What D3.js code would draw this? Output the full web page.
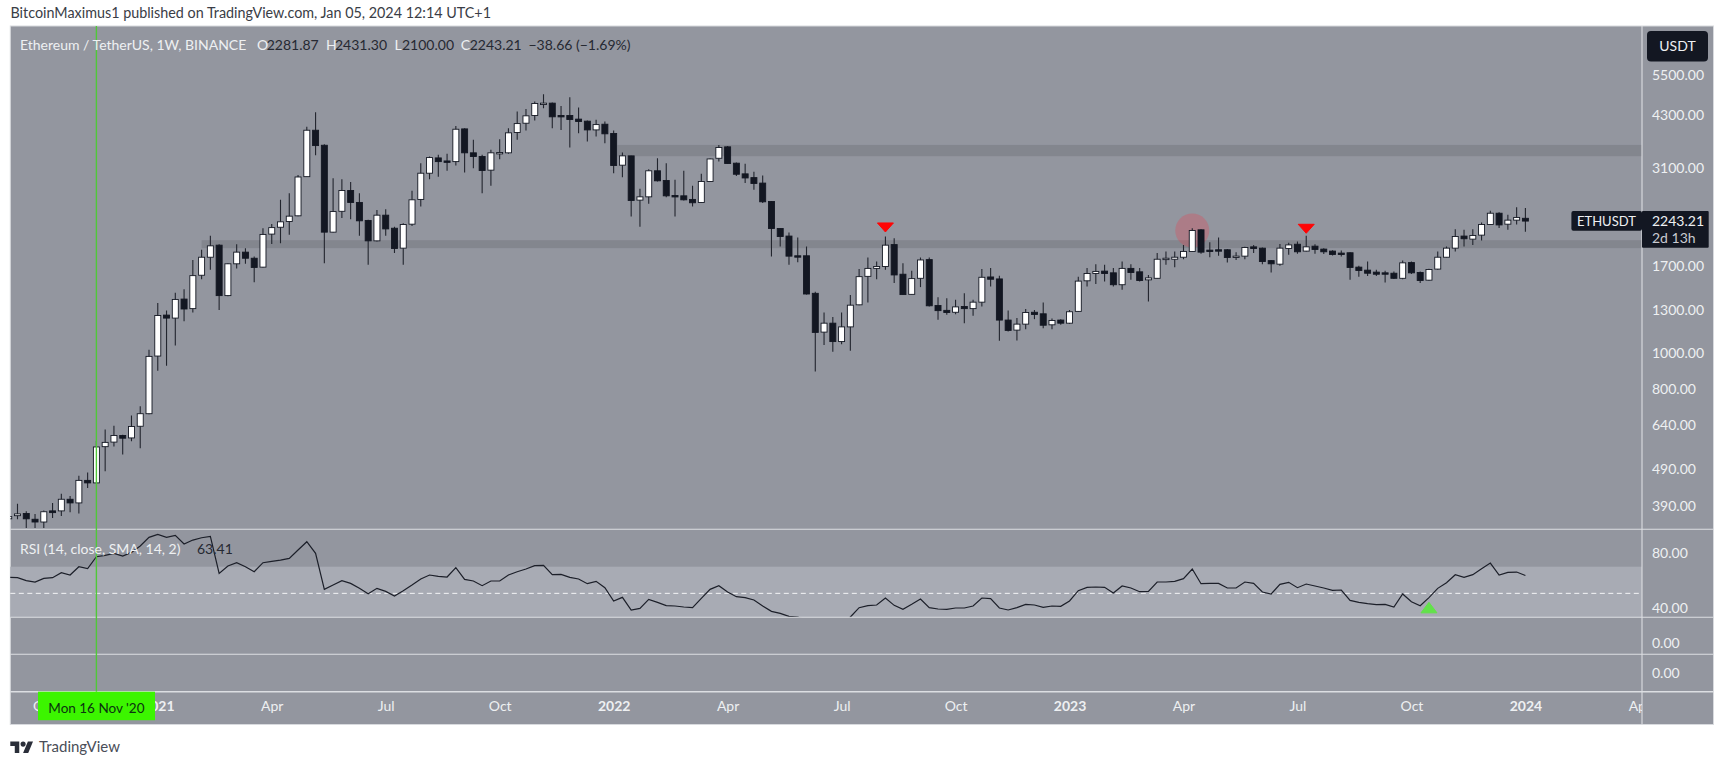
<!DOCTYPE html>
<html>
<head>
<meta charset="utf-8">
<script src="https://cdnjs.cloudflare.com/ajax/libs/d3/7.8.5/d3.min.js"></script>
<style>
  html, body { margin: 0; background: #fff; }
  text { font-family: Lato, "Open Sans", sans-serif; }
</style>
</head>
<body>
<div id="chart"></div>
<script>
// weekly candles, first one is the week of 7 Sep 2020, last the week of 1 Jan 2024
var firstWeek = new Date(Date.UTC(2020, 8, 7))

var opens = [361,368,373,360,354,379,379,407,398,457,450,562,578,602,593,637,688,980,1260,1237,1390,1311,1609,1797,1935,1420,1726,1854,1786,1691,2071,2160,2238,2317,2946,3917,3572,2096,2382,2706,2515,2252,1987,2326,2147,1900,2201,2562,3009,3305,3244,3231,3949,3410,3333,3066,3403,3410,3863,4089,4288,4606,4625,4288,4288,4193,4141,3925,4064,3840,3161,3347,2551,2603,3054,2877,2624,2619,2562,2515,2860,3298,3537,3200,2997,2929,2832,2530,2143,2046,1813,1813,1440,1135,1199,1071,1172,1342,1598,1678,1698,1942,1619,1431,1579,1771,1336,1297,1282,1328,1311,1364,1592,1573,1222,1149,1192,1282,1270,1187,1222,1199,1289,1555,1626,1650,1633,1518,1678,1643,1564,1579,1775,1775,1797,1862,2126,1877,1881,1881,1801,1809,1915,1900,1760,1722,1896,1946,1866,1923,1889,1866,1843,1847,1691,1660,1640,1633,1629,1579,1739,1636,1561,1671,1797,1900,2046,2008,2058,2196,2354,2201,2256,2281.87]
var highs = [374,396,378,372,380,398,421,415,470,480,583,624,639,605,680,720,1019,1356,1295,1446,1477,1767,1881,2050,1946,1733,1946,1900,1805,2147,2205,2556,2660,2978,4003,4374,3593,2917,2900,2849,2660,2261,2401,2411,2168,2215,2700,3200,3333,3368,3389,4020,3964,3692,3368,3473,3707,3964,4391,4463,4673,4882,4644,4548,4797,4501,4158,4175,4132,3910,3417,3350,2734,3085,3298,3200,2889,3054,2786,2997,3291,3579,3558,3212,3187,3035,2965,2536,2147,2092,2029,1919,1455,1281,1245,1281,1426,1671,1794,1750,2041,2020,1733,1653,1794,1794,1406,1398,1384,1440,1384,1671,1681,1605,1295,1237,1308,1300,1362,1234,1229,1300,1595,1681,1722,1715,1681,1750,1722,1681,1612,1843,1862,1862,1938,2147,2134,1970,2029,1889,1854,1915,1938,1908,1767,1950,1965,1978,2050,1946,1900,1877,1873,1854,1705,1750,1664,1653,1647,1760,1750,1647,1674,1862,1919,2134,2126,2134,2224,2391,2368,2331,2442,2431.30]
var lows = [352,360,341,341,341,363,367,376,373,436,448,483,563,536,581,557,686,896,924,1046,1214,1280,1570,1664,1300,1415,1678,1726,1542,1688,1950,1957,2063,2312,2940,3361,1733,2090,2285,2270,2050,1715,1978,2050,1843,1715,2177,2453,2900,2946,3054,3155,3022,3104,2660,2786,3277,3389,3692,3910,4158,4482,3964,3925,3523,3847,3653,3770,3614,3009,2934,2308,2168,2494,2860,2598,2308,2546,2453,2510,2849,3231,3187,2959,2832,2717,2505,1805,1919,1715,1743,1429,892,1048,1006,1054,1012,1339,1362,1570,1664,1533,1426,1429,1496,1328,1224,1262,1267,1199,1255,1328,1502,1076,1140,1078,1156,1229,1163,1156,1187,1194,1286,1502,1524,1549,1502,1471,1564,1549,1370,1576,1715,1691,1775,1858,1835,1797,1813,1739,1767,1775,1843,1722,1636,1705,1824,1835,1862,1835,1832,1816,1805,1564,1595,1602,1602,1539,1573,1570,1622,1533,1555,1664,1794,1862,1919,1938,1991,2191,2151,2126,2196,2100.00]
var closes = [366,372,361,354,377,375,407,398,457,450,561,577,602,592,636,688,978,1257,1237,1387,1308,1605,1797,1927,1420,1726,1854,1786,1688,2067,2155,2233,2312,2940,3917,3565,2096,2378,2706,2515,2247,1987,2326,2138,1896,2196,2556,3009,3312,3231,3231,3941,3410,3333,3060,3410,3417,3855,4080,4279,4615,4625,4253,4262,4184,4132,3925,4055,3832,3155,3347,2546,2603,3054,2872,2619,2614,2556,2510,2860,3284,3523,3193,2990,2923,2826,2525,2143,2041,1809,1805,1434,1133,1199,1071,1172,1339,1595,1678,1698,1935,1612,1429,1576,1767,1334,1295,1280,1325,1311,1364,1589,1570,1222,1147,1192,1280,1265,1184,1219,1199,1286,1552,1626,1647,1626,1518,1678,1636,1558,1583,1775,1786,1797,1862,2117,1854,1870,1873,1794,1809,1908,1896,1750,1726,1900,1938,1858,1915,1885,1858,1828,1835,1688,1657,1629,1619,1626,1579,1736,1633,1558,1667,1797,1900,2041,2012,2054,2196,2354,2191,2256,2294,2243.21]

// RSI(14) read off the lower pane, the stretch under the pane edge is a guess
var rsiValues = [62,61.75,59.5,58.5,61.25,61.75,65.5,63.75,70,68.5,77.5,78.5,80,78,80.75,85.5,92,94.25,92,93.5,87,90,91.75,92.75,65,70.5,73,70,66.25,73,74,75,76.25,82.5,88.75,80,53,56.25,59.5,57.5,53.75,49.75,53.75,51.5,48,52,56.25,60.75,63.75,62.75,62.25,69.25,60.5,59.25,55.75,59.25,59.25,63.75,66.25,68.25,70.75,71,64,64.25,62,60.75,57.25,59,54.25,44.25,47,37.5,38.75,45.5,43.25,40.75,40.5,39.75,39.25,46.25,53,55.75,51,47.5,46.75,45,40.5,36.5,35,32.75,32.25,30,20,21.25,18.75,25,32.25,39.25,40.75,41.25,46.5,41,38,41.75,45.75,39.25,38.25,38,39,39,40.5,46.5,46,39,37.5,39.25,41.75,41.25,39.5,40.5,40.25,44.25,52,54.5,54.75,54.5,50.25,55.5,54,51.25,51.5,58.5,58.5,59,61,68.25,57.25,57.5,57.5,54,54,58.5,57.5,51,49.5,56.75,58.25,54.25,57,55.5,54,52.25,52.5,44.75,43.25,42.25,41.5,41.75,39.75,49.5,43.75,40.75,46.75,53.75,58,64,62,64,68.5,72.75,63.75,65.75,66,63.41]

var priceTicks = [5500, 4300, 3100, 1700, 1300, 1000, 800, 640, 490, 390]
var rsiTicks = [80, 40]
var timeTickDates = ['2020-10-05', '2021-01-04', '2021-04-05', '2021-07-05', '2021-10-04', '2022-01-03', '2022-04-04', '2022-07-04', '2022-10-03', '2023-01-02', '2023-04-03', '2023-07-03', '2023-10-02', '2024-01-01', '2024-04-01']
var timeTickLabels = ['Oct', '2021', 'Apr', 'Jul', 'Oct', '2022', 'Apr', 'Jul', 'Oct', '2023', 'Apr', 'Jul', 'Oct', '2024', 'Apr']

// drawn levels: price bottom, price top, day they start
var zoneLows = [3340, 1900]
var zoneHighs = [3579, 1995]
var zoneStarts = ['2022-01-06', '2021-02-08']

var sellDates = ['2022-08-08', '2023-07-10']
var sellPrices = [2092, 2075]
var circleDate = '2023-04-10'
var circlePrice = 2117
var buyDate = '2023-10-16'
var buyRsi = 43.25
var crosshairDate = '2020-11-16'

var W = 1722
  , H = 763
  , left = 10.3
  , right = 1713.5
  , axisX = 1642
  , top_ = 26
  , mainBottom = 529.3
  , rsiBottom = 617.3
  , pane3Bottom = 654.3
  , pane4Bottom = 691.7
  , bottom = 724.5

var paneColor = '#93969f'
  , dark = '#131722'
  , lineColor = '#dcdee2'
  , axisText = '#eef0f2'

var svg = d3.select('#chart').append('svg')
  .attr('width', W)
  .attr('height', H)
  .style('display', 'block')

var parseDay = d3.utcParse('%Y-%m-%d')
var weeks = opens.map(function (d, i) { return d3.utcDay.offset(firstWeek, i * 7) })

// 16 Nov 2020 sits at 96.4px and 1 Jan 2024 at 1525.4px
var x = d3.scaleUtc()
  .domain([parseDay('2020-11-16'), parseDay('2024-01-01')])
  .range([96.4, 1525.4])
var y = d3.scaleLog().domain([338.5, 7425]).range([mainBottom, top_])
var yRsi = d3.scaleLinear().domain([30, 70]).range([620, 566.7])

var defs = svg.append('defs')
defs.append('clipPath').attr('id', 'clip-main').append('rect')
  .attr('x', left).attr('y', top_).attr('width', axisX - left).attr('height', mainBottom - top_)
defs.append('clipPath').attr('id', 'clip-rsi').append('rect')
  .attr('x', left).attr('y', mainBottom).attr('width', axisX - left).attr('height', rsiBottom - mainBottom)
defs.append('clipPath').attr('id', 'clip-time').append('rect')
  .attr('x', left).attr('y', pane4Bottom).attr('width', axisX - left).attr('height', bottom - pane4Bottom)

svg.append('rect')
  .attr('x', left).attr('y', top_)
  .attr('width', right - left).attr('height', bottom - top_)
  .attr('fill', paneColor)
  .attr('stroke', '#d8dade')
  .attr('stroke-width', 1)

// main pane
var main = svg.append('g').attr('clip-path', 'url(#clip-main)')

main.selectAll('rect.zone')
  .data(zoneLows)
  .join('rect')
  .attr('class', 'zone')
  .attr('x', function (d, i) { return x(parseDay(zoneStarts[i])) })
  .attr('y', function (d, i) { return y(zoneHighs[i]) })
  .attr('width', function (d, i) { return axisX - x(parseDay(zoneStarts[i])) })
  .attr('height', function (d, i) { return y(d) - y(zoneHighs[i]) })
  .attr('fill', '#83868e')

main.append('circle')
  .attr('cx', x(parseDay(circleDate)))
  .attr('cy', y(circlePrice))
  .attr('r', 17)
  .attr('fill', '#f23645')
  .attr('opacity', 0.27)

var candle = main.selectAll('g.candle')
  .data(weeks)
  .join('g')
  .attr('class', 'candle')

candle.append('line')
  .attr('x1', function (d) { return x(d) })
  .attr('x2', function (d) { return x(d) })
  .attr('y1', function (d, i) { return y(highs[i]) })
  .attr('y2', function (d, i) { return y(lows[i]) })
  .attr('stroke', '#22252e')
  .attr('stroke-width', 1.1)

candle.append('rect')
  .attr('x', function (d) { return x(d) - 3 })
  .attr('width', 6)
  .attr('y', function (d, i) { return y(Math.max(opens[i], closes[i])) })
  .attr('height', function (d, i) { return Math.max(1.4, Math.abs(y(opens[i]) - y(closes[i]))) })
  .attr('fill', function (d, i) { return closes[i] >= opens[i] ? '#fff' : dark })
  .attr('stroke', dark)
  .attr('stroke-width', 0.9)

main.selectAll('path.sell')
  .data(sellDates)
  .join('path')
  .attr('class', 'sell')
  .attr('d', 'M-8,-9.5L8,-9.5L0,-0.5Z')
  .attr('transform', function (d, i) { return 'translate(' + x(parseDay(d)) + ',' + y(sellPrices[i]) + ')' })
  .attr('fill', '#ff0505')
  .attr('stroke', '#ff0505')
  .attr('stroke-width', 1)
  .attr('stroke-linejoin', 'round')

// RSI pane
svg.append('rect')
  .attr('x', left).attr('y', yRsi(70))
  .attr('width', axisX - left).attr('height', rsiBottom - yRsi(70))
  .attr('fill', '#a8abb4')

svg.append('line')
  .attr('x1', left).attr('x2', axisX)
  .attr('y1', yRsi(50)).attr('y2', yRsi(50))
  .attr('stroke', '#f4f5f6')
  .attr('stroke-width', 1)
  .attr('stroke-dasharray', '5 3.5')

svg.append('g').attr('clip-path', 'url(#clip-rsi)')
  .append('path')
  .datum(rsiValues)
  .attr('fill', 'none')
  .attr('stroke', '#1c1f29')
  .attr('stroke-width', 1.2)
  .attr('d', d3.line()
    .x(function (d, i) { return x(weeks[i]) })
    .y(function (d) { return yRsi(d) }))

svg.append('path')
  .attr('d', 'M0,0L8,10.5L-8,10.5Z')
  .attr('transform', 'translate(' + x(parseDay(buyDate)) + ',' + yRsi(buyRsi) + ')')
  .attr('fill', '#62e24a')
  .attr('stroke', '#62e24a')
  .attr('stroke-width', 1)
  .attr('stroke-linejoin', 'round')

// pane separators
;[mainBottom, rsiBottom, pane3Bottom, pane4Bottom].forEach(function (ly, i) {
  svg.append('line')
    .attr('x1', left).attr('x2', right)
    .attr('y1', ly).attr('y2', ly)
    .attr('stroke', lineColor)
    .attr('stroke-width', i == 3 ? 1.4 : 1.1)
})

svg.append('line')
  .attr('x1', axisX).attr('x2', axisX)
  .attr('y1', top_).attr('y2', bottom)
  .attr('stroke', lineColor)
  .attr('stroke-width', 1.1)

// axes
function styleAxis (g) {
  g.select('.domain').remove()
  g.selectAll('.tick line').remove()
  g.selectAll('.tick text')
    .attr('fill', axisText)
    .style('font-size', '14px')
    .style('font-family', 'Lato, sans-serif')
}

svg.append('g')
  .attr('transform', 'translate(' + 1652 + ',0)')
  .call(d3.axisRight(y).tickValues(priceTicks).tickFormat(d3.format('.2f')).tickSize(0).tickPadding(0))
  .call(styleAxis)

svg.append('g')
  .attr('transform', 'translate(' + 1652 + ',0)')
  .call(d3.axisRight(yRsi).tickValues(rsiTicks).tickFormat(d3.format('.2f')).tickSize(0).tickPadding(0))
  .call(styleAxis)
  .selectAll('.tick text')
  .attr('dy', function (d) { return d == 40 ? '0.44em' : '0.32em' })

svg.selectAll('text.zero')
  .data(['0.00', '0.00'])
  .join('text')
  .attr('class', 'zero')
  .attr('x', 1652)
  .attr('y', function (d, i) { return i ? 673.3 : 642.7 })
  .attr('dy', '0.35em')
  .attr('fill', axisText)
  .style('font-size', '14px')
  .text(function (d) { return d })

var timeAxis = svg.append('g')
  .attr('clip-path', 'url(#clip-time)')
  .append('g')
  .attr('transform', 'translate(0,' + 701 + ')')
  .call(d3.axisBottom(x)
    .tickValues(timeTickDates.map(parseDay))
    .tickFormat(function (d, i) { return timeTickLabels[i] })
    .tickSize(0)
    .tickPadding(0))
  .call(styleAxis)

timeAxis.selectAll('.tick text')
  .style('font-weight', function (d, i) { return /^\d/.test(timeTickLabels[i]) ? 700 : 400 })

// crosshair
svg.append('line')
  .attr('x1', x(parseDay(crosshairDate))).attr('x2', x(parseDay(crosshairDate)))
  .attr('y1', top_).attr('y2', pane4Bottom)
  .attr('stroke', '#50c838')
  .attr('stroke-width', 1.4)

svg.append('rect')
  .attr('x', 38).attr('y', pane4Bottom)
  .attr('width', 117).attr('height', 28.5)
  .attr('fill', '#3cf500')

svg.append('text')
  .attr('x', x(parseDay(crosshairDate))).attr('y', 708.7)
  .attr('dy', '0.35em')
  .attr('text-anchor', 'middle')
  .attr('fill', '#0b3310')
  .style('font-size', '13.5px')
  .text("Mon 16 Nov '20")

// legends
function label (txt, lx, ly, color, size, anchor) {
  return svg.append('text')
    .attr('x', lx).attr('y', ly)
    .attr('dy', '0.35em')
    .attr('text-anchor', anchor || 'start')
    .attr('fill', color)
    .style('font-size', (size || 14) + 'px')
    .text(txt)
}

label('BitcoinMaximus1 published on TradingView.com, Jan 05, 2024 12:14 UTC+1', 10.5, 13, '#3a3d46', 14.35)

label('Ethereum / TetherUS, 1W, BINANCE', 20, 45.3, '#eef0f2')
label('O', 257, 45.3, '#eef0f2')
label('2281.87', 266.7, 45.3, '#262932')
label('H', 326, 45.3, '#eef0f2')
label('2431.30', 335, 45.3, '#262932')
label('L', 394.6, 45.3, '#eef0f2')
label('2100.00', 402, 45.3, '#262932')
label('C', 460.8, 45.3, '#eef0f2')
label('2243.21', 469.7, 45.3, '#262932')
label('\u221238.66 (\u22121.69%)', 528.5, 45.3, '#262932')

label('RSI (14, close, SMA, 14, 2)', 20, 549.3, '#eef0f2')
label('63.41', 197, 549.3, '#262932')

// right hand tags
svg.append('rect')
  .attr('x', 1647).attr('y', 31)
  .attr('width', 61).attr('height', 30.5)
  .attr('rx', 4)
  .attr('fill', dark)
label('USDT', 1677.5, 46, '#eef0f2', 14, 'middle')

svg.append('rect')
  .attr('x', 1571.4).attr('y', 211)
  .attr('width', 70.6).attr('height', 19.7)
  .attr('rx', 2)
  .attr('fill', dark)
svg.append('rect')
  .attr('x', 1642).attr('y', 211)
  .attr('width', 66.7).attr('height', 36.7)
  .attr('rx', 1)
  .attr('fill', dark)
label('ETHUSDT', 1577, 221, '#eef0f2', 13)
label(d3.format('.2f')(closes[closes.length - 1]), 1652, 221, '#eef0f2', 14)
label('2d 13h', 1652, 238, '#c8cad0', 14)

// footer logo
svg.append('path')
  .attr('transform', 'translate(10.3,739) scale(0.64)')
  .attr('d', 'M14 22H7V11H0V4h14v18zM28 22h-8l7.5-18h8L28 22z')
  .attr('fill', '#2a2e39')
svg.append('circle')
  .attr('cx', 10.3 + 20 * 0.64).attr('cy', 739 + 8 * 0.64)
  .attr('r', 4 * 0.64)
  .attr('fill', '#2a2e39')
label('TradingView', 39, 746.7, '#4a4e58', 15)
</script>
</body>
</html>
